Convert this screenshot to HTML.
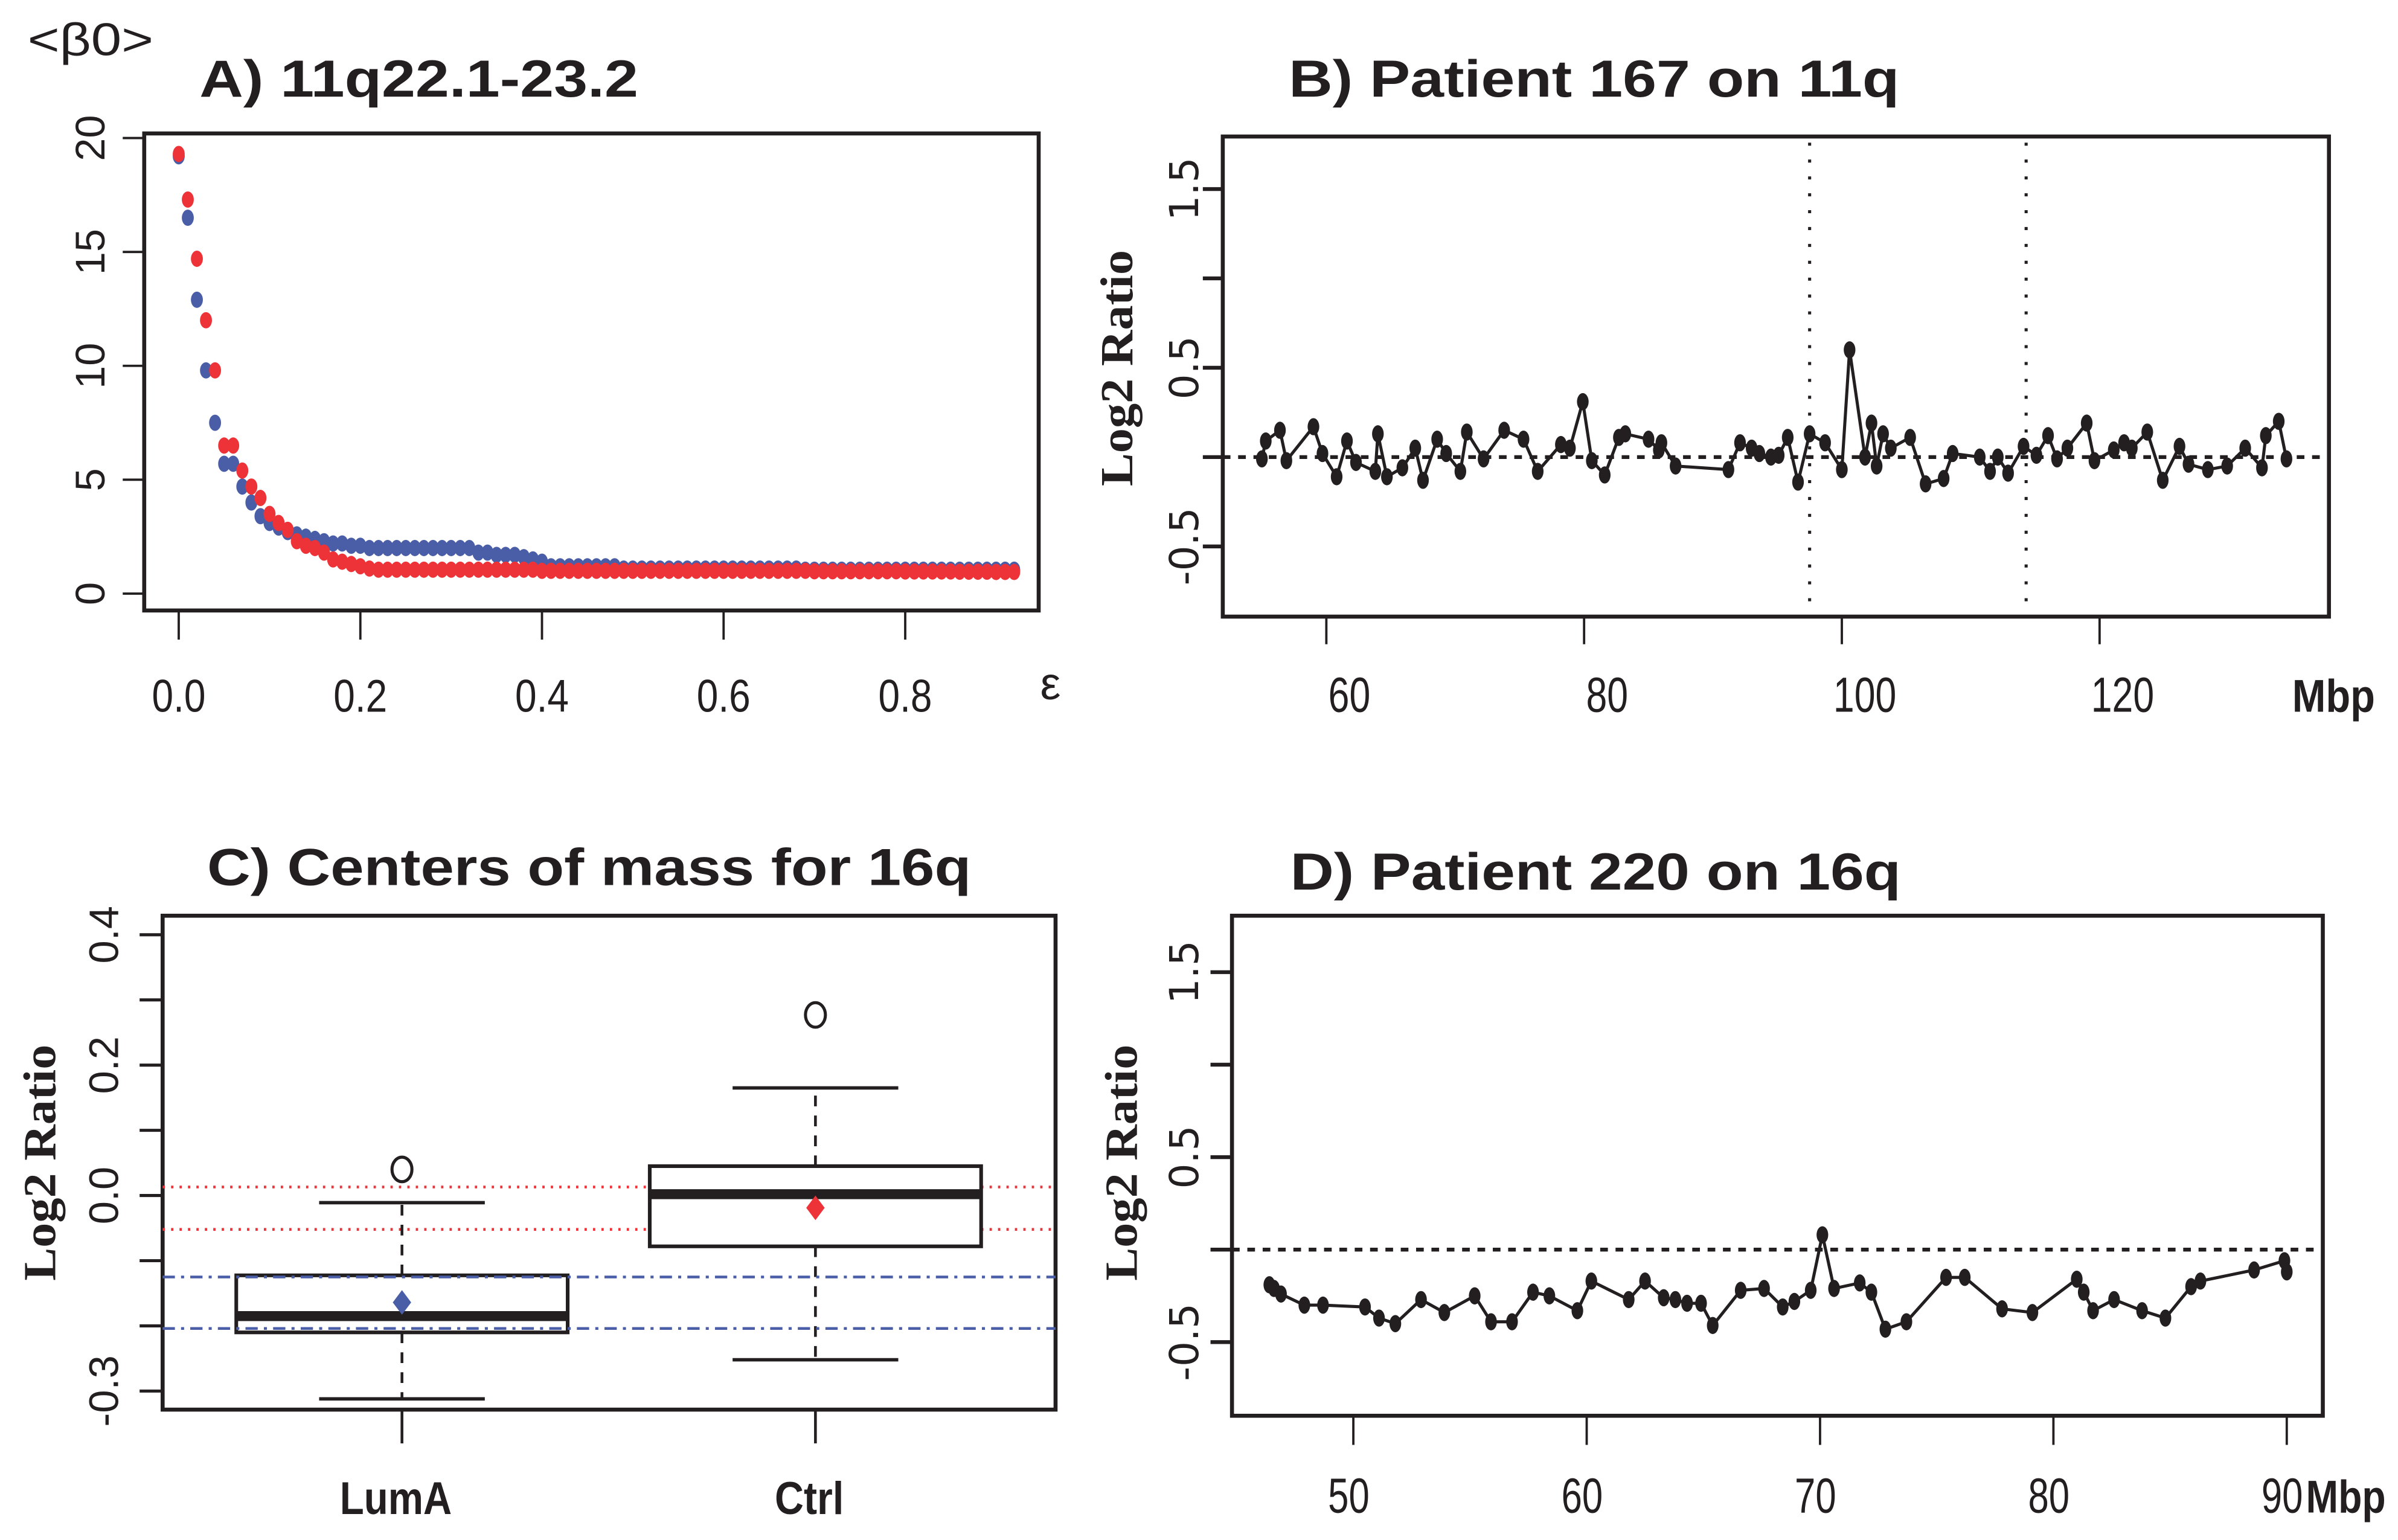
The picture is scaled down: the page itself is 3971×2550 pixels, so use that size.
<!DOCTYPE html>
<html><head><meta charset="utf-8"><style>
html,body{margin:0;padding:0;background:#fff;}
svg{display:block;}
text{font-family:"Liberation Sans",sans-serif;fill:#231f20;}
</style></head><body>
<svg id="fig" xmlns="http://www.w3.org/2000/svg" width="3971" height="2550" viewBox="0 0 1563 1004" preserveAspectRatio="none"></svg>
<script>
// Panel A data
const epsA = [0,0.01,0.02,0.03,0.04,0.05,0.06,0.07,0.08,0.09,0.10,0.11,0.12,0.13,0.14,0.15,0.16,0.17,0.18,0.19,0.20,0.21,0.22,0.23,0.24,0.25,0.26,0.27,0.28,0.29,0.30,0.31,0.32,0.33,0.34,0.35,0.36,0.37,0.38,0.39,0.40,0.41,0.42,0.43,0.44,0.45,0.46,0.47,0.48,0.49,0.50,0.51,0.52,0.53,0.54,0.55,0.56,0.57,0.58,0.59,0.60,0.61,0.62,0.63,0.64,0.65,0.66,0.67,0.68,0.69,0.70,0.71,0.72,0.73,0.74,0.75,0.76,0.77,0.78,0.79,0.80,0.81,0.82,0.83,0.84,0.85,0.86,0.87,0.88,0.89,0.90,0.91,0.92];
const blueA = [19.2,16.5,12.9,9.8,7.5,5.7,5.7,4.7,4.0,3.4,3.1,2.9,2.7,2.6,2.5,2.4,2.3,2.2,2.2,2.1,2.1,2.0,
2.0,2.0,2.0,2.0,2.0,2.0,2.0,2.0,2.0,2.0,2.0,
1.8,1.8,1.7,1.7,1.7,1.6,1.5,1.4,
1.2,1.2,1.2,1.2,1.2,1.2,1.2,1.2,
1.1,1.1,1.1,1.1,1.1,1.1,1.1,1.1,1.1,1.1,1.1,1.1,1.1,1.1,1.1,1.1,1.1,1.1,1.1,1.1,
1.05,1.05,1.05,1.05,1.05,1.05,1.05,1.05,1.05,1.05,1.05,1.05,1.05,1.05,1.05,1.05,1.05,1.05,1.05,1.05,1.05,1.05,1.05,1.05];
const redA = [19.3,17.3,14.7,12.0,9.8,6.5,6.5,5.4,4.7,4.2,3.5,3.1,2.8,2.3,2.1,2.0,1.8,1.5,1.4,1.3,1.2,1.1,
1.05,1.05,1.05,1.05,1.05,1.05,1.05,1.05,1.05,1.05,1.05,1.05,1.05,1.05,1.05,1.05,1.05,1.05,1.0,1.0,1.0,1.0,1.0,1.0,
1.0,1.0,1.0,1.0,1.0,1.0,1.0,1.0,1.0,1.0,1.0,1.0,1.0,1.0,1.0,1.0,1.0,1.0,1.0,1.0,1.0,1.0,1.0,1.0,
0.98,0.98,0.98,0.98,0.98,0.98,0.98,0.98,0.98,0.98,0.97,0.97,0.97,0.97,0.97,0.97,0.96,0.96,0.96,0.96,0.95,0.95,0.95];
const ticksAx = [0,0.2,0.4,0.6,0.8];
const ticksAxLabels = ["0.0","0.2","0.4","0.6","0.8"];
const ticksAy = [0,5,10,15,20];

// Panel B data
const mbpB = [55.0,55.3,56.4,56.9,59.0,59.7,60.8,61.6,62.3,63.8,64.0,64.7,65.9,66.9,67.5,68.6,69.3,70.4,70.9,72.2,73.8,75.3,76.4,78.2,78.9,79.9,80.6,81.6,82.7,83.2,85.0,85.8,86.0,87.1,91.2,92.1,93.0,93.6,94.5,95.1,95.8,96.6,97.5,98.7,100.0,100.6,101.8,102.3,102.7,103.2,103.8,105.3,106.5,107.9,108.6,110.7,111.5,112.1,112.9,114.1,115.1,116.0,116.7,117.5,119.0,119.6,121.1,121.9,122.5,123.7,124.9,126.2,126.9,128.4,129.9,131.3,132.6,132.9,133.9,134.5];
const valB = [-0.01,0.09,0.15,-0.02,0.17,0.02,-0.11,0.09,-0.03,-0.08,0.13,-0.11,-0.06,0.05,-0.13,0.10,0.02,-0.08,0.14,-0.01,0.15,0.10,-0.08,0.07,0.05,0.31,-0.02,-0.10,0.11,0.13,0.10,0.04,0.08,-0.05,-0.07,0.08,0.05,0.02,0.00,0.01,0.11,-0.14,0.13,0.08,-0.07,0.60,0.00,0.19,-0.05,0.13,0.05,0.11,-0.15,-0.12,0.02,0.00,-0.08,0.00,-0.09,0.06,0.01,0.12,-0.01,0.05,0.19,-0.02,0.04,0.08,0.05,0.14,-0.13,0.06,-0.04,-0.07,-0.05,0.05,-0.06,0.12,0.20,-0.01];
const vlinesB = [97.5,114.3];
const ticksBx = [60,80,100,120];
const ticksBy = [-0.5,0,0.5,1,1.5];
const ticksByLabels = ["-0.5","","0.5","","1.5"];

// Panel C data
const groupsC = ["LumA","Ctrl"];
const q1C = [-0.21,-0.078];
const medC = [-0.185,0.002];
const q3C = [-0.1225,0.045];
const whiskLoC = [-0.312,-0.252];
const whiskHiC = [-0.011,0.165];
const outlierC = [0.04,0.277];
const meanC = [-0.164,-0.019];
const redRefC = [0.013,-0.052];
const blueRefC = [-0.125,-0.204];
const ticksCy = [-0.3,-0.2,-0.1,0,0.1,0.2,0.3,0.4];
const ticksCyLabels = ["-0.3","","","0.0","","0.2","","0.4"];

// Panel D data
const mbpD = [46.4,46.6,46.9,47.9,48.7,50.5,51.1,51.8,52.9,53.9,55.2,55.9,56.8,57.7,58.4,59.6,60.2,61.8,62.5,63.3,63.8,64.3,64.9,65.4,66.6,67.6,68.4,68.9,69.6,70.1,70.6,71.7,72.2,72.8,73.7,75.4,76.2,77.8,79.1,81.0,81.3,81.7,82.6,83.8,84.8,85.9,86.3,88.6,89.9,90.0];
const valD = [-0.19,-0.21,-0.24,-0.30,-0.30,-0.31,-0.37,-0.40,-0.27,-0.34,-0.25,-0.39,-0.39,-0.23,-0.25,-0.33,-0.17,-0.27,-0.17,-0.26,-0.27,-0.29,-0.29,-0.41,-0.22,-0.21,-0.31,-0.28,-0.22,0.08,-0.21,-0.18,-0.23,-0.43,-0.39,-0.15,-0.15,-0.32,-0.34,-0.16,-0.23,-0.33,-0.27,-0.33,-0.37,-0.20,-0.17,-0.11,-0.06,-0.12];
const ticksDx = [50,60,70,80,90];
const ticksDy = [-0.5,0,0.5,1,1.5];
const ticksDyLabels = ["-0.5","","0.5","","1.5"];

const NS = "http://www.w3.org/2000/svg";
const svg = document.getElementById('fig');
const INK = "#231f20";
const SERIF = 'font-family:"Liberation Serif",serif;font-weight:bold;';
const DEJAVU = 'font-family:"DejaVu Sans",sans-serif;';
function mk(tag, attrs, parent){
  const e = document.createElementNS(NS, tag);
  for (const k in attrs) e.setAttribute(k, attrs[k]);
  (parent||svg).appendChild(e);
  return e;
}
function txt(s, attrs, parent){
  const e = mk('text', attrs, parent);
  e.textContent = s;
  return e;
}
let el;

// ================= Panel A =================
const ax = v => 116.5 + v*591.9;
const ay = v => 387 - v*14.85;
el = mk('rect',{x:94,y:87,width:583,height:311,fill:'none',stroke:INK,'stroke-width':2.6});


el = txt('A) 11q22.1-23.2',{x:130,y:63,'font-size':34,'font-weight':'bold',textLength:286,lengthAdjust:'spacingAndGlyphs'});


el = txt('<β0>',{x:18,y:36,'font-size':30,textLength:82,lengthAdjust:'spacingAndGlyphs'});


el = txt('ε',{x:678,y:456,'font-size':30});


ticksAx.forEach((t,i)=>{
  el = mk('line',{x1:ax(t),x2:ax(t),y1:398,y2:417,stroke:INK,'stroke-width':1.5});
  
  
  el = txt(ticksAxLabels[i],{x:ax(t),y:464,'font-size':30,'text-anchor':'middle',textLength:35,lengthAdjust:'spacingAndGlyphs'});
  
  
});
ticksAy.forEach(t=>{
  el = mk('line',{x1:80,x2:94,y1:ay(t),y2:ay(t),stroke:INK,'stroke-width':1.5});
  
  
  el = txt(String(t),{x:0,y:0,'font-size':27,'text-anchor':'middle',transform:`translate(68,${ay(t)}) rotate(-90)`});
  
  
});
epsA.forEach((e,i)=>{
  el = mk('ellipse',{cx:ax(e),cy:ay(blueA[i]),rx:3.9,ry:5.3,fill:'#4a5ea8'});
  
  
});
epsA.forEach((e,i)=>{
  el = mk('ellipse',{cx:ax(e),cy:ay(redA[i]),rx:3.9,ry:5.3,fill:'#ee3338'});
  
  
});

// ================= Panel B =================
const bx = v => 864.5 + (v-60)*8.4;
const by = v => 298 - v*116.5;
el = mk('rect',{x:797,y:89,width:721,height:313,fill:'none',stroke:INK,'stroke-width':2.6});


el = txt('B) Patient 167 on 11q',{x:840,y:63,'font-size':34,'font-weight':'bold',textLength:398,lengthAdjust:'spacingAndGlyphs'});


el = txt('Log2 Ratio',{x:0,y:0,'font-size':30,style:SERIF,'text-anchor':'middle',textLength:154,lengthAdjust:'spacingAndGlyphs',transform:'translate(738,240) rotate(-90)'});


ticksBx.forEach(t=>{
  el = mk('line',{x1:bx(t),x2:bx(t),y1:402,y2:420,stroke:INK,'stroke-width':1.5});
  
  
  el = txt(String(t),{x:bx(t)+15,y:464,'font-size':32,'text-anchor':'middle',textLength:String(t).length*13.7,lengthAdjust:'spacingAndGlyphs'});
  
  
});
el = txt('Mbp',{x:1494,y:464,'font-size':30,'font-weight':'bold',textLength:54,lengthAdjust:'spacingAndGlyphs'});


ticksBy.forEach((t,i)=>{
  el = mk('line',{x1:784,x2:797,y1:by(t),y2:by(t),stroke:INK,'stroke-width':2.5});
  
  
  if (ticksByLabels[i]) {
    el = txt(ticksByLabels[i],{x:0,y:0,'font-size':26,style:DEJAVU,'text-anchor':'middle',transform:`translate(781,${by(t)}) rotate(-90)`});
    
    
  }
});
vlinesB.forEach(v=>{
  el = mk('line',{x1:bx(v),x2:bx(v),y1:93,y2:393,stroke:INK,'stroke-width':2,'stroke-dasharray':'2 9'});
  
  
});
el = mk('line',{x1:797,x2:1518,y1:by(0),y2:by(0),stroke:INK,'stroke-width':2.5,'stroke-dasharray':'5 5'});


el = mk('polyline',{points:mbpB.map((m,i)=>bx(m)+','+by(valB[i])).join(' '),fill:'none',stroke:INK,'stroke-width':2});


mbpB.forEach((m,i)=>{
  el = mk('ellipse',{cx:bx(m),cy:by(valB[i]),rx:3.8,ry:5.6,fill:INK});
  
  
});

// ================= Panel C =================
const cy = v => 779.4 - v*425;
const cx = [262,531.5];
el = mk('rect',{x:106,y:597,width:582,height:322,fill:'none',stroke:INK,'stroke-width':2.6});


el = txt('C) Centers of mass for 16q',{x:135,y:577,'font-size':34,'font-weight':'bold',textLength:498,lengthAdjust:'spacingAndGlyphs'});


el = txt('Log2 Ratio',{x:0,y:0,'font-size':30,style:SERIF,'text-anchor':'middle',textLength:154,lengthAdjust:'spacingAndGlyphs',transform:'translate(36,758) rotate(-90)'});


ticksCy.forEach((t,i)=>{
  el = mk('line',{x1:91,x2:106,y1:cy(t),y2:cy(t),stroke:INK,'stroke-width':2});
  
  
  if (ticksCyLabels[i]) {
    el = txt(ticksCyLabels[i],{x:0,y:0,'font-size':27,'text-anchor':'middle',transform:`translate(77,${cy(t)}) rotate(-90)`});
    
    
  }
});
redRefC.forEach(v=>{
  el = mk('line',{x1:106,x2:688,y1:cy(v),y2:cy(v),stroke:'#ee3338','stroke-width':1.8,'stroke-dasharray':'1.5 4'});
  
  
});
groupsC.forEach((g,i)=>{
  const x = cx[i];
  el = mk('line',{x1:x,x2:x,y1:cy(q3C[i]),y2:cy(whiskHiC[i]),stroke:INK,'stroke-width':1.8,'stroke-dasharray':'7 6'});
  
  
  el = mk('line',{x1:x,x2:x,y1:cy(q1C[i]),y2:cy(whiskLoC[i]),stroke:INK,'stroke-width':1.8,'stroke-dasharray':'7 6'});
  
  
  el = mk('line',{x1:x-54,x2:x+54,y1:cy(whiskHiC[i]),y2:cy(whiskHiC[i]),stroke:INK,'stroke-width':2.2});
  
  
  el = mk('line',{x1:x-54,x2:x+54,y1:cy(whiskLoC[i]),y2:cy(whiskLoC[i]),stroke:INK,'stroke-width':2.2});
  
  
  el = mk('rect',{x:x-108,y:cy(q3C[i]),width:216,height:cy(q1C[i])-cy(q3C[i]),fill:'#fff',stroke:INK,'stroke-width':2.4});
  
  
  el = mk('line',{x1:x-108,x2:x+108,y1:cy(medC[i]),y2:cy(medC[i]),stroke:INK,'stroke-width':6.5});
  
  
  el = mk('ellipse',{cx:x,cy:cy(outlierC[i]),rx:6.5,ry:8,fill:'none',stroke:INK,'stroke-width':2});
  
  
  el = mk('line',{x1:x,x2:x,y1:919,y2:941,stroke:INK,'stroke-width':1.8});
  
  
  el = txt(g,{x:x-4,y:987,'font-size':30,'font-weight':'bold','text-anchor':'middle',textLength:i===0?73:45,lengthAdjust:'spacingAndGlyphs'});
  
  
});
blueRefC.forEach(v=>{
  el = mk('line',{x1:106,x2:688,y1:cy(v),y2:cy(v),stroke:'#4a5ea8','stroke-width':1.8,'stroke-dasharray':'8 4 2 4'});
  
  
});
const meanCol = ['#4a5ea8','#ee3338'];
groupsC.forEach((g,i)=>{
  const x = cx[i], y = cy(meanC[i]);
  el = mk('polygon',{points:`${x},${y-8} ${x+6},${y} ${x},${y+8} ${x-6},${y}`,fill:meanCol[i]});
  
  
});

// ================= Panel D =================
const dx = v => 882.1 + (v-50)*15.21;
const dy = v => 814.7 - v*120.6;
el = mk('rect',{x:803,y:597,width:711,height:326,fill:'none',stroke:INK,'stroke-width':2.6});


el = txt('D) Patient 220 on 16q',{x:841,y:580,'font-size':34,'font-weight':'bold',textLength:398,lengthAdjust:'spacingAndGlyphs'});


el = txt('Log2 Ratio',{x:0,y:0,'font-size':30,style:SERIF,'text-anchor':'middle',textLength:154,lengthAdjust:'spacingAndGlyphs',transform:'translate(741,758) rotate(-90)'});


ticksDx.forEach(t=>{
  el = mk('line',{x1:dx(t),x2:dx(t),y1:923,y2:942,stroke:INK,'stroke-width':1.5});
  
  
  el = txt(String(t),{x:dx(t)-3,y:986,'font-size':32,'text-anchor':'middle',textLength:27,lengthAdjust:'spacingAndGlyphs'});
  
  
});
el = txt('Mbp',{x:1503,y:986,'font-size':30,'font-weight':'bold',textLength:52,lengthAdjust:'spacingAndGlyphs'});


ticksDy.forEach((t,i)=>{
  el = mk('line',{x1:789,x2:803,y1:dy(t),y2:dy(t),stroke:INK,'stroke-width':2.5});
  
  
  if (ticksDyLabels[i]) {
    el = txt(ticksDyLabels[i],{x:0,y:0,'font-size':26,style:DEJAVU,'text-anchor':'middle',transform:`translate(781,${dy(t)}) rotate(-90)`});
    
    
  }
});
el = mk('line',{x1:803,x2:1514,y1:dy(0),y2:dy(0),stroke:INK,'stroke-width':2.5,'stroke-dasharray':'5 5'});


el = mk('polyline',{points:mbpD.map((m,i)=>dx(m)+','+dy(valD[i])).join(' '),fill:'none',stroke:INK,'stroke-width':2});


mbpD.forEach((m,i)=>{
  el = mk('ellipse',{cx:dx(m),cy:dy(valD[i]),rx:3.8,ry:5.6,fill:INK});
  
  
});
</script>
</body></html>
